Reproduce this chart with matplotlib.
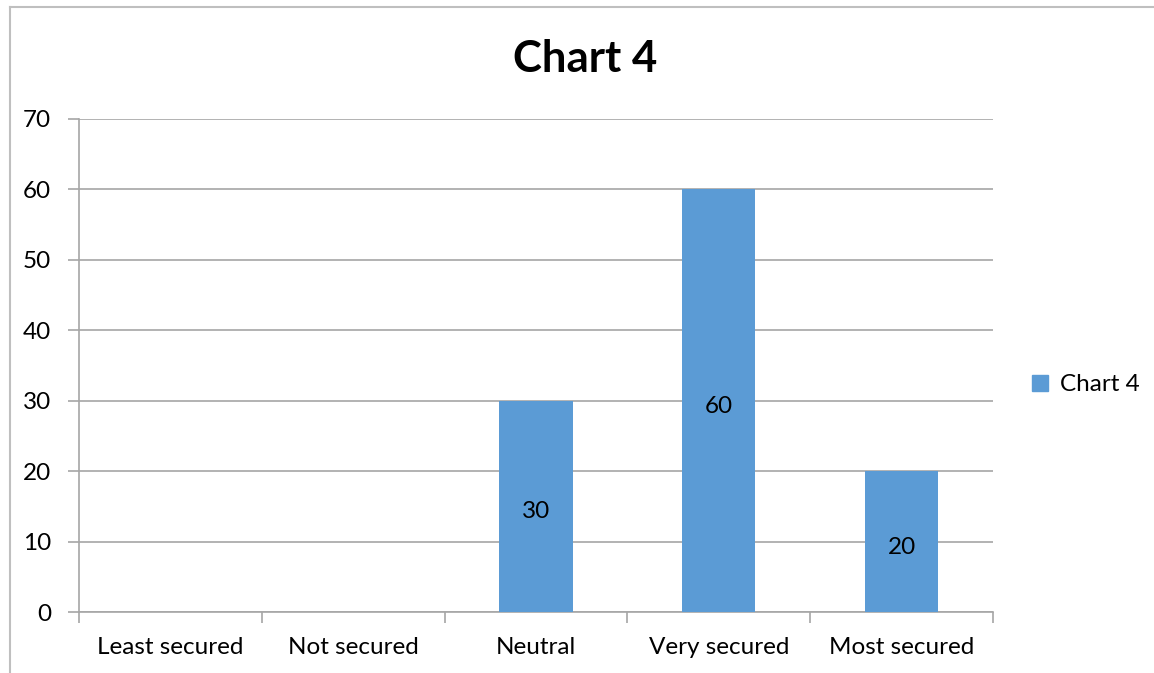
import matplotlib.pyplot as plt
from matplotlib.lines import Line2D

categories = ["Least secured", "Not secured", "Neutral", "Very secured", "Most secured"]
values = [0, 0, 30, 60, 20]
series_name = "Chart 4"

plt.rcParams['font.family'] = ['Lato', 'DejaVu Sans']

fig = plt.figure(figsize=(11.54, 6.73), dpi=100)
ax = fig.add_axes([0.0685, 0.0906, 0.792, 0.7326])

bar_color = "#5B9BD5"
grid_color = "#A6A6A6"
label_size = 17.5

x = list(range(len(categories)))
ax.bar(x, values, width=0.4, color=bar_color, zorder=3)

# value labels in the middle of each non-empty bar
for xi, v in zip(x, values):
    if v > 0:
        ax.annotate(str(v), (xi, v / 2), xytext=(0, -4), textcoords="offset points",
                    ha="center", va="center", fontsize=label_size, color="black", zorder=4)

ax.set_xlim(-0.5, len(categories) - 0.5)
ax.set_ylim(0, 70)
ax.set_yticks(range(0, 71, 10))
ax.yaxis.grid(True, color=grid_color, linewidth=1.2, zorder=0)
ax.set_axisbelow(True)

ax.set_xticks(x)
ax.set_xticklabels(categories, fontsize=label_size)
ax.tick_params(axis="x", length=0, pad=18)
ax.set_xticks([i - 0.5 for i in range(len(categories) + 1)], minor=True)
ax.tick_params(axis="x", which="minor", length=8, color=grid_color, width=1.2)
ax.tick_params(axis="y", length=8, color=grid_color, width=1.2, labelsize=label_size, pad=12)

for side in ["top", "right"]:
    ax.spines[side].set_visible(False)
ax.spines["left"].set_color(grid_color)
ax.spines["bottom"].set_color(grid_color)
ax.spines["left"].set_linewidth(1.2)
ax.spines["bottom"].set_linewidth(1.2)

fig.text(0.507, 0.912, series_name, ha="center", va="center", fontsize=31.5, fontweight="bold")

handle = Line2D([], [], marker="s", linestyle="none", markersize=12, color=bar_color)
fig.legend([handle], [series_name], loc="center left", bbox_to_anchor=(0.893, 0.428),
           frameon=False, fontsize=label_size, handletextpad=0.4, handlelength=0.8,
           borderpad=0, borderaxespad=0)

# outer frame on the left and top edges
fig.add_artist(Line2D([0.0087, 0.0087], [0, 0.99], transform=fig.transFigure, color="#BFBFBF", linewidth=1.5))
fig.add_artist(Line2D([0.0087, 1.0], [0.99, 0.99], transform=fig.transFigure, color="#BFBFBF", linewidth=1.5))

fig.savefig("out.png", dpi=100)
